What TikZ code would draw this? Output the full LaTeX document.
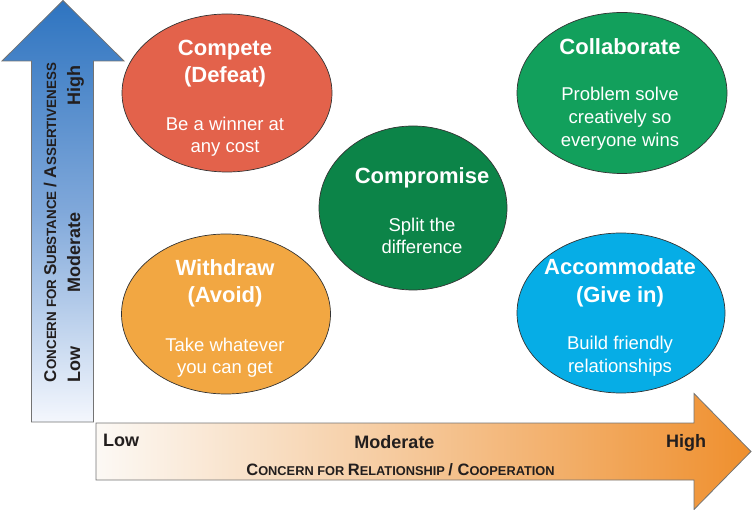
\documentclass[tikz,border=0pt]{standalone}
\usepackage{fontspec}
\setmainfont{Liberation Sans}
\usetikzlibrary{shapes.geometric}
\definecolor{competecol}{RGB}{227,98,75}
\definecolor{collabcol}{RGB}{18,160,92}
\definecolor{comprocol}{RGB}{12,132,72}
\definecolor{withdrawcol}{RGB}{242,167,66}
\definecolor{accomcol}{RGB}{6,173,230}
\definecolor{blueTop}{RGB}{46,116,192}
\definecolor{blueMid}{RGB}{128,168,218}
\definecolor{blueBot}{RGB}{244,247,253}
\definecolor{orgL}{RGB}{252,249,245}
\definecolor{orgM}{RGB}{245,198,150}
\definecolor{orgR}{RGB}{239,143,45}
\definecolor{axtext}{RGB}{34,30,30}
\newcommand{\fsc}[2]{{\fontsize{16.5}{18}\selectfont #1}{\fontsize{12.8}{14}\selectfont #2}}
\newcommand{\fscv}[2]{{\fontsize{17}{18}\selectfont #1}{\fontsize{13.4}{14}\selectfont #2}}
\begin{document}
\begin{tikzpicture}[x=1pt,y=-1pt,
  blob/.style={ellipse, draw=black!80, line width=0.7pt, inner sep=0pt},
  ttl/.style={font=\fontsize{22}{26}\selectfont\bfseries, text=white, anchor=base, inner sep=0pt},
  bdy/.style={font=\fontsize{18.5}{22}\selectfont, text=white, anchor=base, inner sep=0pt},
  axl/.style={font=\fontsize{18}{20}\selectfont\bfseries, text=axtext, inner sep=0pt},
  axc/.style={text=axtext, inner sep=0pt, font=\bfseries},
  arrowshape/.style={draw=black!55, line width=0.8pt}]
\useasboundingbox (0,0) rectangle (752,510);

% vertical arrow
\shadedraw[arrowshape, top color=blueTop, bottom color=blueBot, middle color=blueMid]
  (31.5,422) -- (31.5,61) -- (2,61) -- (63,0.5) -- (124,61) -- (93.5,61) -- (93.5,422) -- cycle;
% horizontal arrow
\shadedraw[arrowshape, left color=orgL, right color=orgR, middle color=orgM]
  (96,423) -- (694,423) -- (694,393.5) -- (751,451.5) -- (694,509.5) -- (694,480) -- (96,480) -- cycle;

% vertical labels
\node[axc, rotate=90, anchor=base] (vcon) at (56,222.5)
  {\fscv{C}{ONCERN FOR }\fscv{S}{UBSTANCE }\fscv{/ A}{SSERTIVENESS}};
\node[axl, rotate=90, anchor=base] (vlow) at (80,364.5) {Low};
\node[axl, rotate=90, anchor=base] (vmod) at (80,252.5) {Moderate};
\node[axl, rotate=90, anchor=base] (vhigh) at (80,86) {High};

% horizontal labels
\node[axl, anchor=base west] (hlow) at (103,446) {Low};
\node[axl, anchor=base] (hmod) at (394.5,448) {Moderate};
\node[axl, anchor=base] (hhigh) at (686,447) {High};
\node[axc, anchor=base] (hcon) at (400.5,475)
  {\fsc{C}{ONCERN FOR }\fsc{R}{ELATIONSHIP }\fsc{/ C}{OOPERATION}};

% ellipses
\node[blob, fill=competecol, minimum width=210pt, minimum height=158pt] (compete) at (227,93) {};
\node[blob, fill=collabcol, minimum width=210pt, minimum height=161pt] (collab) at (622,93) {};
\node[blob, fill=comprocol, minimum width=188pt, minimum height=164pt] (compro) at (413,208) {};
\node[blob, fill=withdrawcol, minimum width=209pt, minimum height=160pt] (withdraw) at (226,314) {};
\node[blob, fill=accomcol, minimum width=208pt, minimum height=160pt] (accom) at (621,313) {};

% Compete
\node[ttl] (cpT1) at (225,55.7) {Compete};
\node[ttl] (cpT2) at (225,82.7) {(Defeat)};
\node[bdy] (cpB1) at (225,130.7) {Be a winner at};
\node[bdy] (cpB2) at (225,152.7) {any cost};
% Collaborate
\node[ttl] (clT1) at (620,55) {Collaborate};
\node[bdy] (clB1) at (620,100.7) {Problem solve};
\node[bdy] (clB2) at (620,123.7) {creatively so};
\node[bdy] (clB3) at (620,146.7) {everyone wins};
% Compromise
\node[ttl] (crT1) at (422,183.3) {Compromise};
\node[bdy] (crB1) at (422,231.7) {Split the};
\node[bdy] (crB2) at (422,254) {difference};
% Withdraw
\node[ttl] (wdT1) at (225,276) {Withdraw};
\node[ttl] (wdT2) at (225,302.7) {(Avoid)};
\node[bdy] (wdB1) at (225,351.7) {Take whatever};
\node[bdy] (wdB2) at (225,373.3) {you can get};
% Accommodate
\node[ttl] (acT1) at (620,275) {Accommodate};
\node[ttl] (acT2) at (620,302.3) {(Give in)};
\node[bdy] (acB1) at (620,350) {Build friendly};
\node[bdy] (acB2) at (620,372) {relationships};
\end{tikzpicture}
\end{document}
